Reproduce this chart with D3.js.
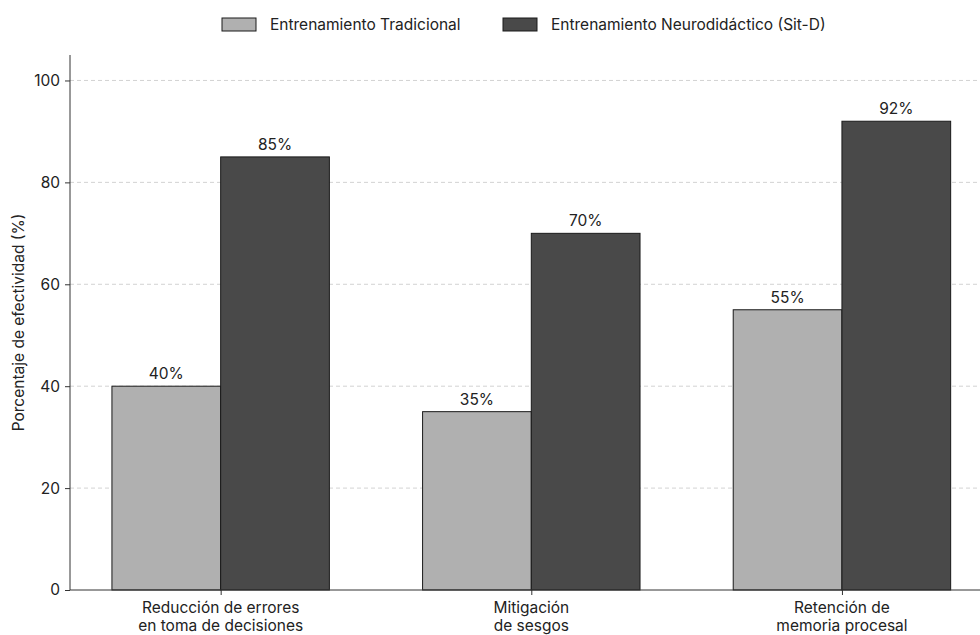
<!DOCTYPE html>
<html>
<head>
<meta charset="utf-8">
<script src="https://cdn.jsdelivr.net/npm/d3@7"></script>
<style>
  body { margin: 0; background: #fff; }
  svg text { font-family: Inter, "Open Sans", sans-serif; fill: #222; }
</style>
</head>
<body>
<svg id="chart" width="980" height="635"></svg>
<script>
var categories = [["Reducción de errores", "en toma de decisiones"], ["Mitigación", "de sesgos"], ["Retención de", "memoria procesal"]];
var seriesNames = ["Entrenamiento Tradicional", "Entrenamiento Neurodidáctico (Sit-D)"];
var traditional = [40, 35, 55];
var neuro = [85, 70, 92];
var yTicks = [0, 20, 40, 60, 80, 100];
var colors = ["#b0b0b0", "#494949"];

var svg = d3.select("#chart");
var plotLeft = 70, plotBottom = 590, plotTop = 55;
var fontSize = 15.5;

// x scale in "category units", like a matplotlib bar chart
var x = d3.scaleLinear().domain([-0.485, 2.485]).range([plotLeft, 992.6]);
var y = d3.scaleLinear().domain([0, 105]).range([plotBottom, plotTop]);
var barW = 0.35;

/*
Gridlines
*/
svg.append("g").selectAll("line").data(yTicks.slice(1)).join("line")
	.attr("x1", plotLeft).attr("x2", 980)
	.attr("y1", function(d) { return y(d); }).attr("y2", function(d) { return y(d); })
	.attr("stroke", "#c8c8c8").attr("stroke-width", 0.8).attr("stroke-dasharray", "4,3");

/*
Bars
*/
var series = [traditional, neuro];
series.forEach(function(vals, s) {
	var g = svg.append("g");
	g.selectAll("rect").data(vals).join("rect")
		.attr("x", function(d, i) { return x(i + (s - 1) * barW); })
		.attr("width", x(barW) - x(0))
		.attr("y", function(d) { return y(d); })
		.attr("height", function(d) { return y(0) - y(d); })
		.attr("fill", colors[s]).attr("stroke", "#1a1a1a").attr("stroke-width", 1);
	g.selectAll("text").data(vals).join("text")
		.attr("x", function(d, i) { return x(i + (s - 0.5) * barW); })
		.attr("y", function(d) { return y(d) - 7; })
		.attr("text-anchor", "middle").attr("font-size", fontSize)
		.text(function(d) { return d + "%"; });
});

/*
Axes
*/
var yAxis = svg.append("g").attr("transform", "translate(" + plotLeft + ",0)")
	.call(d3.axisLeft(y).tickValues(yTicks).tickSize(5).tickPadding(5));
var xAxis = svg.append("g").attr("transform", "translate(0," + plotBottom + ")")
	.call(d3.axisBottom(x).tickValues([0, 1, 2]).tickSize(5).tickFormat(""));
[yAxis, xAxis].forEach(function(a) {
	a.select(".domain").attr("stroke", "#333").attr("stroke-width", 1);
	a.selectAll(".tick line").attr("stroke", "#333");
	a.selectAll("text").attr("font-size", fontSize).attr("fill", "#222").style("font-family", "Inter, sans-serif");
});
yAxis.select(".domain").attr("d", "M0," + plotBottom + "V" + plotTop);
xAxis.select(".domain").attr("d", "M" + plotLeft + ",0H980");

svg.append("g").selectAll("text").data(categories).join("text")
	.attr("text-anchor", "middle").attr("font-size", fontSize)
	.attr("transform", function(d, i) { return "translate(" + x(i) + "," + (plotBottom + 23) + ")"; })
	.selectAll("tspan").data(function(d) { return d; }).join("tspan")
	.attr("x", 0).attr("dy", function(d, j) { return j === 0 ? 0 : 18; })
	.text(function(d) { return d; });

svg.append("text")
	.attr("transform", "translate(24," + ((plotTop + plotBottom) / 2) + ") rotate(-90)")
	.attr("text-anchor", "middle").attr("font-size", fontSize)
	.text("Porcentaje de efectividad (%)");

/*
Legend
*/
var legendX = [222, 503];
var lg = svg.append("g").selectAll("g").data(seriesNames).join("g")
	.attr("transform", function(d, i) { return "translate(" + legendX[i] + ",18)"; });
lg.append("rect").attr("width", 34).attr("height", 13)
	.attr("fill", function(d, i) { return colors[i]; })
	.attr("stroke", "#1a1a1a").attr("stroke-width", 1);
lg.append("text").attr("x", 48).attr("y", 12).attr("font-size", fontSize)
	.text(function(d) { return d; });
</script>
</body>
</html>
